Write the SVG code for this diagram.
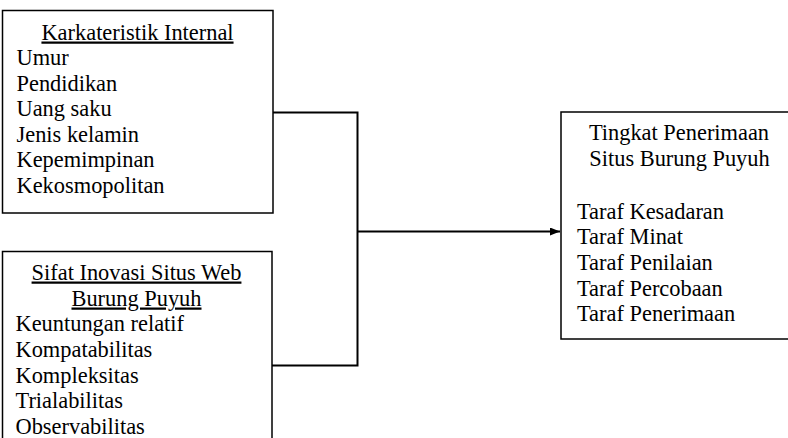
<svg xmlns="http://www.w3.org/2000/svg" width="788" height="438" viewBox="0 0 788 438">
<defs>
<style>
.box{fill:#fff;stroke:#000;stroke-width:1.5}
text{font-family:'Liberation Serif','Times New Roman',serif;font-size:22.4px;fill:#000}
.c{text-anchor:middle}
.u{text-decoration:underline}
.ln{fill:none;stroke:#000;stroke-width:2}
</style>
<marker id="arr" markerWidth="10" markerHeight="8" refX="10" refY="4" orient="auto" markerUnits="userSpaceOnUse">
<path d="M0,0 L10,4 L0,8 Z" fill="#000"/>
</marker>
</defs>
<rect width="788" height="438" fill="#fff"/>
<g id="connectors">
<polyline class="ln" points="273,112.5 357.5,112.5 357.5,365.5 272,365.5"/>
<line class="ln" x1="357.5" y1="231.5" x2="560" y2="231.5" marker-end="url(#arr)"/>
</g>
<g id="karakteristik-internal">
<rect class="box" x="2.5" y="10.5" width="270.5" height="202.5"/>
<text class="c u" x="137.5" y="39.5">Karkateristik Internal</text>
<text x="16.5" y="65">Umur</text>
<text x="16.5" y="90.5">Pendidikan</text>
<text x="16.5" y="116">Uang saku</text>
<text x="16.5" y="141.5">Jenis kelamin</text>
<text x="16.5" y="167">Kepemimpinan</text>
<text x="16.5" y="193">Kekosmopolitan</text>
</g>
<g id="sifat-inovasi">
<rect class="box" x="2.5" y="251.5" width="269.5" height="200"/>
<text class="c u" x="136.5" y="279.5">Sifat Inovasi Situs Web</text>
<text class="c u" x="136.5" y="305.5">Burung Puyuh</text>
<text x="15.5" y="331">Keuntungan relatif</text>
<text x="15.5" y="357">Kompatabilitas</text>
<text x="15.5" y="382.5">Kompleksitas</text>
<text x="15.5" y="408">Trialabilitas</text>
<text x="15.5" y="434">Observabilitas</text>
</g>
<g id="tingkat-penerimaan">
<rect class="box" x="561" y="112" width="240" height="227"/>
<text class="c" x="679" y="140">Tingkat Penerimaan</text>
<text class="c" x="679.5" y="165.5">Situs Burung Puyuh</text>
<text x="577" y="218.5">Taraf Kesadaran</text>
<text x="577" y="244">Taraf Minat</text>
<text x="577" y="270">Taraf Penilaian</text>
<text x="577" y="295.5">Taraf Percobaan</text>
<text x="577" y="321">Taraf Penerimaan</text>
</g>
</svg>
